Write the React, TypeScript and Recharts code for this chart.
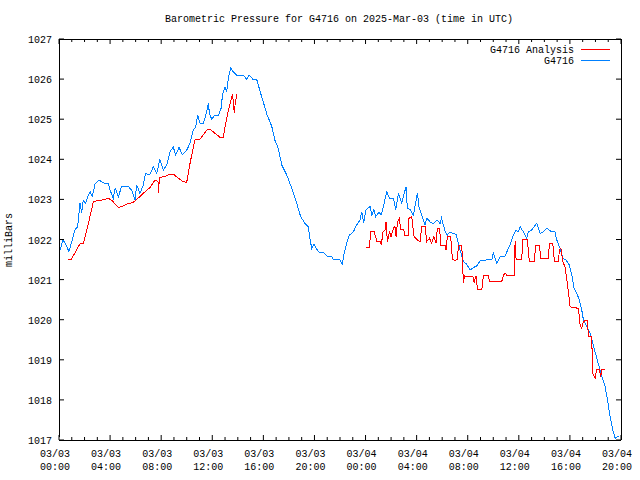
import React from 'react';
import { LineChart, Line, XAxis, YAxis } from 'recharts';

const blueHours = [
  0.1, 0.3, 0.5, 0.78, 1.0, 1.25, 1.46, 1.64, 1.77, 1.9, 2.09, 2.3, 2.45, 2.6, 2.82, 3.13, 3.55, 3.86, 4.0, 4.25,
  4.4, 4.65, 4.9, 5.43, 5.69, 5.95, 6.08, 6.34, 6.6, 6.78, 7.1, 7.39, 7.65, 7.9, 8.17, 8.43, 8.69, 8.95, 9.14, 9.4,
  9.66, 10.0, 10.26, 10.52, 10.7, 10.86, 11.04, 11.3, 11.48, 11.7, 11.77, 11.95, 12.2, 12.48, 12.69, 12.8, 13.0, 13.13, 13.26, 13.44,
  13.65, 13.9, 14.43, 14.7, 14.9, 15.2, 15.48, 15.74, 16.0, 16.3, 16.65, 16.9, 17.17, 17.44, 17.83, 18.22, 18.61, 18.92, 19.26, 19.52,
  19.66, 19.79, 19.97, 20.18, 20.38, 20.7, 20.96, 21.35, 21.48, 22.0, 22.18, 22.32, 22.53, 22.73, 23.05, 23.26, 23.57, 23.7, 23.85, 24.04,
  24.35, 24.5, 24.65, 24.8, 25.06, 25.2, 25.3, 25.45, 25.66, 25.87, 26.18, 26.36, 26.57, 26.83, 27.0, 27.17, 27.27, 27.49, 27.75, 28.06,
  28.2, 28.4, 28.66, 28.8, 29.05, 29.3, 29.6, 29.84, 29.95, 30.23, 30.4, 30.6, 30.88, 31.1, 31.4, 31.66, 31.93, 32.18, 32.45, 32.7,
  32.97, 33.5, 33.88, 34.0, 34.27, 34.53, 34.93, 35.18, 35.37, 35.58, 35.79, 35.95, 36.1, 36.36, 36.62, 36.75, 37.02, 37.2, 37.4, 37.67,
  37.93, 38.18, 38.57, 38.83, 38.97, 39.23, 39.44, 39.7, 39.96, 40.15, 40.33, 40.54, 40.74, 40.93, 41.06, 41.32, 41.58, 41.79, 41.97, 42.18,
  42.36, 42.58, 42.76, 42.94, 43.15, 43.36, 43.54, 43.8,
];
const blueValues = [
  1021.75, 1022.0, 1021.9, 1021.7, 1021.95, 1022.24, 1022.32, 1022.91, 1022.66, 1022.98, 1022.9, 1023.11, 1023.19, 1023.07, 1023.38, 1023.48, 1023.4, 1023.4, 1023.23, 1023.03,
  1023.28, 1023.07, 1023.32, 1023.32, 1023.23, 1022.98, 1023.36, 1023.15, 1023.36, 1023.65, 1023.61, 1023.82, 1023.65, 1024.0, 1023.73, 1023.86, 1024.19, 1024.3, 1024.11, 1024.3,
  1024.11, 1024.23, 1024.4, 1024.73, 1024.81, 1025.1, 1024.9, 1024.9, 1025.08, 1025.4, 1025.15, 1025.0, 1025.1, 1025.1, 1025.27, 1025.6, 1025.81, 1025.69, 1026.02, 1026.28,
  1026.18, 1026.1, 1026.1, 1025.99, 1026.1, 1025.99, 1025.99, 1025.7, 1025.42, 1025.1, 1024.83, 1024.48, 1024.27, 1023.86, 1023.61, 1023.28, 1022.9, 1022.57, 1022.4, 1022.32,
  1021.99, 1021.78, 1021.89, 1021.76, 1021.68, 1021.68, 1021.59, 1021.57, 1021.49, 1021.49, 1021.39, 1021.66, 1021.91, 1022.11, 1022.19, 1022.34, 1022.49, 1022.69, 1022.42, 1022.74,
  1022.82, 1022.6, 1022.74, 1022.57, 1022.69, 1022.61, 1022.69, 1022.9, 1023.19, 1023.03, 1023.03, 1022.74, 1023.15, 1022.9, 1023.11, 1023.32, 1022.78, 1022.74, 1022.61, 1023.15,
  1022.78, 1022.61, 1022.36, 1022.53, 1022.44, 1022.4, 1022.49, 1022.4, 1022.53, 1022.2, 1022.11, 1022.19, 1022.15, 1022.12, 1021.74, 1021.45, 1021.38, 1021.24, 1021.3, 1021.34,
  1021.47, 1021.49, 1021.49, 1021.67, 1021.41, 1021.57, 1021.59, 1021.78, 1021.91, 1022.11, 1022.24, 1022.19, 1022.32, 1022.19, 1022.03, 1022.19, 1022.24, 1022.32, 1022.4, 1022.15,
  1022.19, 1022.28, 1022.19, 1022.19, 1021.99, 1021.78, 1021.53, 1021.49, 1021.36, 1021.11, 1020.78, 1020.66, 1020.49, 1020.24, 1019.99, 1019.83, 1019.66, 1019.41, 1019.2, 1018.95,
  1018.75, 1018.5, 1018.33, 1018.0, 1017.58, 1017.25, 1017.04, 1017.1,
];

const redHours = [
  0.68, 0.94, 1.64, 1.9, 2.3, 2.69, 3.0, 3.34, 3.86, 4.12, 4.65, 4.9, 5.3, 5.82, 6.34, 6.73, 7.13, 7.52, 7.75, 7.8,
  7.85, 8.3, 8.69, 8.95, 9.34, 9.73, 10.0, 10.26, 10.52, 10.65, 11.04, 11.3, 11.56, 11.82, 12.2, 12.6, 12.87, 13.05, 13.26, 13.47,
  13.57, 13.65, 13.72, 13.8, 13.92, 19.0,
  24.04, 24.3, 24.41, 24.67, 24.88, 25.14, 25.25, 25.34, 25.53, 25.6, 25.71, 25.87, 26.0, 26.18, 26.3, 26.39, 26.5, 26.65, 26.75, 27.0,
  27.08, 27.35, 27.4, 27.62, 27.7, 27.8, 28.06, 28.27, 28.4, 28.66, 28.79, 29.0, 29.18, 29.35, 29.52, 29.62, 29.8, 29.89, 30.23, 30.3,
  30.4, 30.67, 30.75, 30.82, 31.0, 31.2, 31.27, 31.53, 31.6, 31.66, 31.75, 32.3, 32.45, 32.5, 32.65, 32.72, 32.75, 33.1, 33.23, 33.6,
  33.72, 34.66, 34.8, 34.93, 35.05, 35.63, 35.71, 35.79, 36.23, 36.31, 36.67, 36.75, 36.83, 37.2, 37.33, 37.61, 37.72, 38.3, 38.4, 38.65,
  38.72, 38.78, 39.1, 39.18, 39.29, 39.44, 39.62, 39.76, 39.89, 40.02, 40.28, 40.67, 40.8, 40.93, 41.0, 41.19, 41.37, 41.45, 41.66, 41.76,
  41.79, 41.97, 42.1, 42.3, 42.42, 42.5, 42.76,
];
const redValues: (number | null)[] = [
  1021.49, 1021.49, 1021.89, 1021.89, 1022.4, 1022.94, 1022.97, 1022.98, 1023.03, 1022.98, 1022.8, 1022.82, 1022.88, 1022.93, 1023.07, 1023.19, 1023.3, 1023.48, 1023.45, 1023.15,
  1023.55, 1023.57, 1023.63, 1023.63, 1023.53, 1023.44, 1023.43, 1023.9, 1024.31, 1024.48, 1024.5, 1024.61, 1024.73, 1024.75, 1024.65, 1024.55, 1024.55, 1024.9, 1025.23, 1025.48,
  1025.62, 1025.44, 1025.16, 1025.4, 1025.62, null,
  1021.81, 1021.81, 1022.19, 1022.19, 1021.96, 1021.96, 1021.87, 1022.17, 1022.24, 1022.44, 1021.95, 1022.19, 1022.07, 1022.28, 1022.32, 1022.07, 1022.44, 1022.53, 1022.24, 1022.24,
  1022.11, 1022.11, 1022.53, 1022.57, 1022.32, 1022.07, 1021.99, 1021.95, 1022.32, 1022.32, 1021.95, 1022.03, 1021.91, 1022.07, 1021.91, 1022.28, 1022.28, 1021.86, 1021.86, 1021.74,
  1022.07, 1022.07, 1021.7, 1021.51, 1021.47, 1021.51, 1021.86, 1021.86, 1021.4, 1020.92, 1021.09, 1021.07, 1021.06, 1020.93, 1021.09, 1020.91, 1020.75, 1020.75, 1021.09, 1021.09,
  1020.95, 1020.95, 1021.11, 1021.16, 1021.11, 1021.11, 1021.95, 1021.49, 1021.51, 1021.99, 1021.99, 1021.7, 1021.45, 1021.45, 1021.86, 1021.86, 1021.53, 1021.53, 1021.91, 1021.91,
  1021.7, 1021.46, 1021.46, 1021.74, 1021.78, 1021.45, 1021.32, 1020.99, 1020.66, 1020.32, 1020.31, 1020.28, 1019.87, 1019.79, 1019.91, 1019.99, 1019.99, 1019.58, 1019.58, 1019.16,
  1018.66, 1018.54, 1018.76, 1018.76, 1018.58, 1018.76, 1018.76,
];

const hourTicks = Array.from({ length: 45 }, (_, i) => i);
const majorTickHours = [0, 4, 8, 12, 16, 20, 24, 28, 32, 36, 40, 44];
const tickDates = ['03/03', '03/03', '03/03', '03/03', '03/03', '03/03', '03/04', '03/04', '03/04', '03/04', '03/04', '03/04'];
const tickTimes = ['00:00', '04:00', '08:00', '12:00', '16:00', '20:00', '00:00', '04:00', '08:00', '12:00', '16:00', '20:00'];
const yTicks = [1017, 1018, 1019, 1020, 1021, 1022, 1023, 1024, 1025, 1026, 1027];

const TITLE = 'Barometric Pressure for G4716 on 2025-Mar-03 (time in UTC)';
const Y_LABEL = 'milliBars';
const SERIES_RED = 'G4716 Analysis';
const SERIES_BLUE = 'G4716';
const RED = '#ff0000';
const BLUE = '#0080ff';
const FONT = '"Liberation Mono", "DejaVu Sans Mono", monospace';

const blueRows = blueHours.map((h, i) => ({ h, v: blueValues[i] }));
const redRows = redHours.map((h, i) => ({ h, v: redValues[i] }));
const mirrorRows = [{ h: 0, v: 1017 }];

const BottomTick = (props: any) => {
  const { x, y, payload } = props;
  const h = payload.value;
  const idx = majorTickHours.indexOf(h);
  const major = idx >= 0;
  return (
    <g>
      <line x1={x} y1={y} x2={x} y2={y - (major ? 5 : 3)} stroke="#000" />
      {major && (
        <text x={x - 4} y={y + 17} textAnchor="middle" fontFamily={FONT} fontSize={10} fill="#000">
          <tspan x={x - 4}>{tickDates[idx]}</tspan>
          <tspan x={x - 4} dy={13.4}>{tickTimes[idx]}</tspan>
        </text>
      )}
    </g>
  );
};

const TopTick = (props: any) => {
  const { x, y, payload } = props;
  const major = payload.value % 4 === 0;
  return <line x1={x} y1={y} x2={x} y2={y + (major ? 5 : 3)} stroke="#000" />;
};

const LeftTick = (props: any) => {
  const { x, y, payload } = props;
  return (
    <g>
      <line x1={x} y1={y} x2={x + 5} y2={y} stroke="#000" />
      <text x={x - 7} y={y + 4} textAnchor="end" fontFamily={FONT} fontSize={10} fill="#000">
        {payload.value}
      </text>
    </g>
  );
};

const RightTick = (props: any) => {
  const { x, y } = props;
  return <line x1={x} y1={y} x2={x - 5} y2={y} stroke="#000" />;
};

const textStyle: React.CSSProperties = {
  position: 'absolute',
  fontFamily: FONT,
  fontSize: 10,
  lineHeight: '10px',
  whiteSpace: 'nowrap',
  color: '#000',
};

export default function App() {
  return (
    <div style={{ position: 'relative', width: 640, height: 480, background: '#fff' }}>
      <style>{`body{margin:0;} .recharts-line-curve, .recharts-cartesian-axis-line, .recharts-cartesian-axis-tick line{shape-rendering:crispEdges;}`}</style>
      <LineChart width={640} height={480} margin={{ top: 38, right: 18, bottom: 39, left: 0 }}>
        <XAxis
          xAxisId="b"
          type="number"
          dataKey="h"
          domain={[0, 44]}
          ticks={hourTicks}
          interval={0}
          allowDataOverflow
          orientation="bottom"
          height={1}
          tickSize={0}
          tickMargin={0}
          tickLine={false}
          axisLine={{ stroke: '#000' }}
          tick={<BottomTick />}
        />
        <XAxis
          xAxisId="t"
          type="number"
          dataKey="h"
          domain={[0, 44]}
          ticks={hourTicks}
          interval={0}
          allowDataOverflow
          orientation="top"
          height={1}
          tickSize={0}
          tickMargin={0}
          tickLine={false}
          axisLine={{ stroke: '#000' }}
          tick={<TopTick />}
        />
        <YAxis
          yAxisId="l"
          type="number"
          domain={[1017, 1027]}
          ticks={yTicks}
          interval={0}
          allowDataOverflow
          orientation="left"
          width={59}
          tickSize={0}
          tickMargin={0}
          tickLine={false}
          axisLine={{ stroke: '#000' }}
          tick={<LeftTick />}
        />
        <YAxis
          yAxisId="r"
          type="number"
          domain={[1017, 1027]}
          ticks={yTicks}
          interval={0}
          allowDataOverflow
          orientation="right"
          width={1}
          tickSize={0}
          tickMargin={0}
          tickLine={false}
          axisLine={{ stroke: '#000' }}
          tick={<RightTick />}
        />
        <Line
          xAxisId="t"
          yAxisId="r"
          data={mirrorRows}
          dataKey="v"
          stroke="none"
          dot={false}
          activeDot={false}
          legendType="none"
          isAnimationActive={false}
        />
        <Line
          xAxisId="b"
          yAxisId="l"
          data={blueRows}
          dataKey="v"
          type="linear"
          stroke={BLUE}
          strokeWidth={1}
          dot={false}
          activeDot={false}
          isAnimationActive={false}
        />
        <Line
          xAxisId="b"
          yAxisId="l"
          data={redRows}
          dataKey="v"
          type="linear"
          stroke={RED}
          strokeWidth={1}
          dot={false}
          activeDot={false}
          connectNulls={false}
          isAnimationActive={false}
        />
      </LineChart>
      <div style={{ ...textStyle, left: 339, top: 15, transform: 'translateX(-50%)' }}>{TITLE}</div>
      <div style={{ ...textStyle, left: 10, top: 240, transform: 'translate(-50%, -50%) rotate(-90deg)' }}>{Y_LABEL}</div>
      <div style={{ ...textStyle, right: 66, top: 45.5 }}>{SERIES_RED}</div>
      <svg style={{ position: 'absolute', left: 581, top: 47, overflow: 'visible' }} width={30} height={16}>
        <line x1={0} y1={2.5} x2={29} y2={2.5} stroke={RED} strokeWidth={1} />
        <line x1={0} y1={13.5} x2={29} y2={13.5} stroke={BLUE} strokeWidth={1} />
      </svg>
      <div style={{ ...textStyle, right: 66, top: 57 }}>{SERIES_BLUE}</div>
    </div>
  );
}
